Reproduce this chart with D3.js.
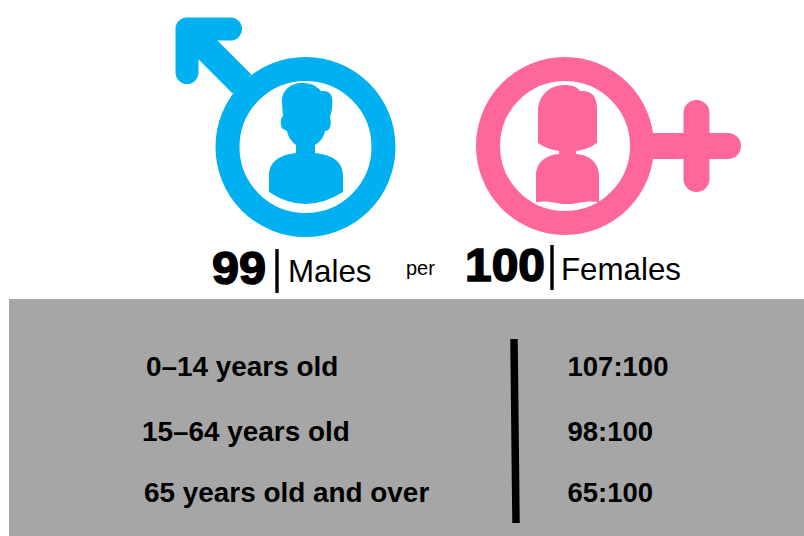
<!DOCTYPE html>
<html>
<head>
<meta charset="utf-8">
<style>
  html, body { margin: 0; padding: 0; background: #fff; }
  svg { display: block; }
  text { font-family: "Liberation Sans", Arial, sans-serif; fill: #000; }
</style>
<script src="https://cdn.jsdelivr.net/npm/d3@7"></script>
</head>
<body>
<div id="chart"></div>
<script>
// Values
const sexes = ["Males", "Females"];
const sexCounts = [99, 100];
const sexColors = ["#00b0f0", "#ff6699"];
const ageGroups = ["0–14 years old", "15–64 years old", "65 years old and over"];
const ageRatios = ["107:100", "98:100", "65:100"];

const width = 804, height = 536;

const svg = d3.select("#chart").append("svg")
  .attr("width", width)
  .attr("height", height);

// Row positions are not quite even in the original
const rowY = d3.scaleOrdinal().domain(ageGroups).range([376, 441, 502]);
const ageX = d3.scaleOrdinal().domain(ageGroups).range([146, 142, 144]);

// Male symbol
const male = svg.append("g").attr("fill", "none").attr("stroke", sexColors[0]);
male.append("circle").attr("cx", 305.5).attr("cy", 147).attr("r", 78).attr("stroke-width", 24);
male.append("path")
  .attr("d", "M230.5,29 L187,29 L187,72.5")
  .attr("stroke-width", 23)
  .attr("stroke-linecap", "round")
  .attr("stroke-linejoin", "round");
male.append("path")
  .attr("d", "M187,29 L242,84")
  .attr("stroke-width", 26.6);
male.append("path")
  .attr("stroke", "none")
  .attr("fill", sexColors[0])
  .attr("d", "M296,145 L296,153 C280,155 269,161 269,176 L269,192 Q305,216 343,192 L343,176 C343,161 332,155 315,153 L315,145 C320,142 324,137 325,131 C330,131 332,125 330,117 C333,108 333,98 331,95 C329,91 325,91 321,91 C316,85 310,83 302,83 C290,83 281,91 282,103 L283,116 C280,118 280,127 283,129 L287,131 C288,137 292,142 296,145 Z");

// Female symbol
const female = svg.append("g").attr("fill", "none").attr("stroke", sexColors[1]);
female.append("circle").attr("cx", 565).attr("cy", 146).attr("r", 77).attr("stroke-width", 24);
female.append("path")
  .attr("d", "M645,146 L728,146 M696.5,113 L696.5,179")
  .attr("stroke-width", 26)
  .attr("stroke-linecap", "round");
female.append("path")
  .attr("stroke", "none")
  .attr("fill", sexColors[1])
  .attr("d", "M565,85 C572,85 577,87 580,91 C590,90 597,95 597,108 L597,143 C590,148 583,150 576,151 L576,154 C590,155 599,163 599,176 L599,202 C585,200 578,204 567,204 C556,204 550,200 536,202 L536,176 C536,163 545,155 559,154 L559,151 C552,150 545,148 538,143 L538,112 C538,95 550,85 565,85 Z");

// Header row
svg.append("g").selectAll("text").data(sexCounts).join("text")
  .attr("x", (d, i) => [212, 465][i])
  .attr("y", (d, i) => [284, 281][i])
  .attr("font-size", 47)
  .attr("font-weight", "bold")
  .attr("stroke", "#000")
  .attr("stroke-width", 1.6)
  .attr("textLength", (d, i) => [54, 80][i])
  .attr("lengthAdjust", "spacingAndGlyphs")
  .text(d => d);

svg.append("g").selectAll("text").data(sexes).join("text")
  .attr("x", (d, i) => [288, 561][i])
  .attr("y", (d, i) => [281.5, 280][i])
  .attr("font-size", 31.3)
  .text(d => d);

svg.append("g").selectAll("line").data(sexes).join("line")
  .attr("x1", (d, i) => [277, 552][i])
  .attr("x2", (d, i) => [277, 552][i])
  .attr("y1", (d, i) => [249, 245][i])
  .attr("y2", (d, i) => [293, 290][i])
  .attr("stroke", "#000")
  .attr("stroke-width", 3.4);

svg.append("text").attr("x", 406).attr("y", 275).attr("font-size", 20).text("per");

// Grey table panel
svg.append("rect")
  .attr("x", 9).attr("y", 299)
  .attr("width", width - 9).attr("height", height - 299)
  .attr("fill", "#a6a6a6");

svg.append("line")
  .attr("x1", 514).attr("x2", 516)
  .attr("y1", 339).attr("y2", 523)
  .attr("stroke", "#000")
  .attr("stroke-width", 7.5);

svg.append("g").selectAll("text").data(ageGroups).join("text")
  .attr("x", d => ageX(d))
  .attr("y", d => rowY(d))
  .attr("font-size", 27.9)
  .attr("font-weight", "bold")
  .text(d => d);

svg.append("g").selectAll("text").data(ageRatios).join("text")
  .attr("x", 567.5)
  .attr("y", (d, i) => rowY(ageGroups[i]))
  .attr("font-size", 27.5)
  .attr("font-weight", "bold")
  .text(d => d);
</script>
</body>
</html>
